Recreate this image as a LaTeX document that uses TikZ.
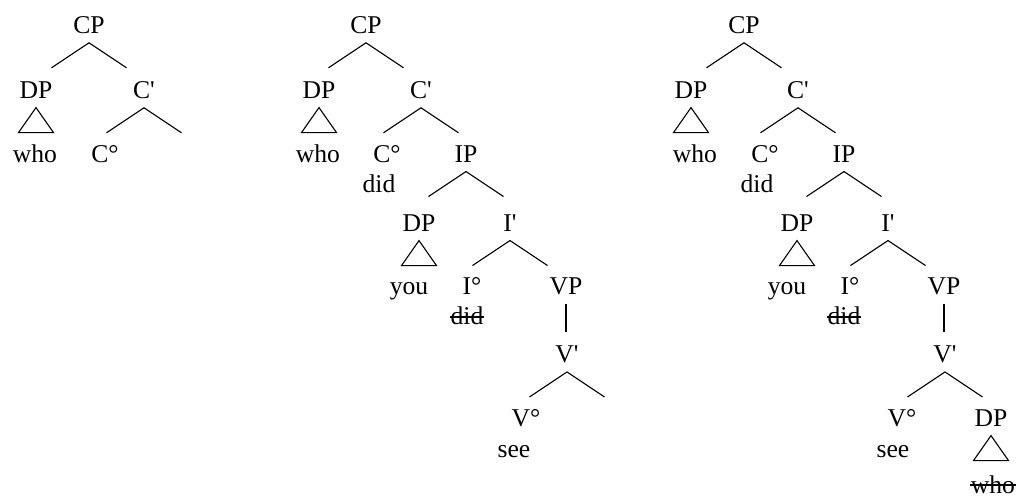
\documentclass[tikz,border=0pt]{standalone}
\usepackage{fontspec}
\setmainfont{Liberation Serif}
\newcommand{\barmark}{\textquotesingle}
\begin{document}
\begin{tikzpicture}[x=0.5pt,y=-0.5pt,font=\fontsize{12.8}{15}\selectfont,
        cat/.style={anchor=base,inner sep=4pt},
        word/.style={anchor=base,inner sep=0pt},
        strike/.style={line width=0.9pt},
        line width=0.55pt]
        \useasboundingbox (0,0) rectangle (1018,497);
        \node[cat] (cpA) at (89,34) {CP};
        \node[cat] (dpA) at (36,99) {DP};
        \node[cat] (cbA) at (144,99) {C\barmark};
        \node[word] (whoA) at (35,163) {who};
        \node[cat] (c0A) at (105,163) {C°};
        \draw (cpA.south) +(-37.5,25) -- (cpA.south) -- +(37.5,25);
        \draw (cbA.south) +(-37.5,25) -- (cbA.south) -- +(37.5,25);
        \draw (dpA.south) -- +(-17.5,25) -- +(17.5,25) -- cycle;

        \node[cat] (cpB) at (366,34) {CP};
        \node[cat] (dpB) at (319,99) {DP};
        \node[cat] (cbB) at (421,99) {C\barmark};
        \node[word] (whoB) at (318,163) {who};
        \node[cat] (c0B) at (387,163) {C°};
        \node[word] (didB) at (379,193) {did};
        \node[cat] (ipB) at (466,163) {IP};
        \node[cat] (dpB2) at (419,232) {DP};
        \node[cat] (ibB) at (510,232) {I\barmark};
        \node[word] (youB) at (409,295) {you};
        \node[cat] (i0B) at (472,295) {I°};
        \node[cat] (vpB) at (566,295) {VP};
        \node[word] (didB2) at (467,325) {did};
        \node[cat] (vbB) at (567,363) {V\barmark};
        \node[cat] (v0B) at (526,427) {V°};
        \node[word] (seeB) at (514,458) {see};
        \draw (cpB.south) +(-37.5,25) -- (cpB.south) -- +(37.5,25);
        \draw (cbB.south) +(-37.5,25) -- (cbB.south) -- +(37.5,25);
        \draw (ipB.south) +(-37.5,25) -- (ipB.south) -- +(37.5,25);
        \draw (ibB.south) +(-37.5,25) -- (ibB.south) -- +(37.5,25);
        \draw (vbB.south) +(-37.5,25) -- (vbB.south) -- +(37.5,25);
        \draw[shorten >=3pt] (vpB.south) -- (vpB.south |- vbB.north);
        \draw (dpB.south) -- +(-17.5,25) -- +(17.5,25) -- cycle;
        \draw (dpB2.south) -- +(-17.5,25) -- +(17.5,25) -- cycle;
        \draw[strike] ([yshift=4pt]didB2.base west) -- ([yshift=4pt]didB2.base east);

        \node[cat] (cpC) at (744,34) {CP};
        \node[cat] (dpC) at (691,99) {DP};
        \node[cat] (cbC) at (798,99) {C\barmark};
        \node[word] (whoC) at (695,163) {who};
        \node[cat] (c0C) at (765,163) {C°};
        \node[word] (didC) at (757,193) {did};
        \node[cat] (ipC) at (844,163) {IP};
        \node[cat] (dpC2) at (797,232) {DP};
        \node[cat] (ibC) at (888,232) {I\barmark};
        \node[word] (youC) at (787,295) {you};
        \node[cat] (i0C) at (850,295) {I°};
        \node[cat] (vpC) at (944,295) {VP};
        \node[word] (didC2) at (844,325) {did};
        \node[cat] (vbC) at (945,363) {V\barmark};
        \node[cat] (v0C) at (902,427) {V°};
        \node[cat] (dpC3) at (991,427) {DP};
        \node[word] (seeC) at (893,458) {see};
        \node[word] (whoC2) at (993,493) {who};
        \draw (cpC.south) +(-37.5,25) -- (cpC.south) -- +(37.5,25);
        \draw (cbC.south) +(-37.5,25) -- (cbC.south) -- +(37.5,25);
        \draw (ipC.south) +(-37.5,25) -- (ipC.south) -- +(37.5,25);
        \draw (ibC.south) +(-37.5,25) -- (ibC.south) -- +(37.5,25);
        \draw (vbC.south) +(-37.5,25) -- (vbC.south) -- +(37.5,25);
        \draw[shorten >=3pt] (vpC.south) -- (vpC.south |- vbC.north);
        \draw (dpC.south) -- +(-17.5,25) -- +(17.5,25) -- cycle;
        \draw (dpC2.south) -- +(-17.5,25) -- +(17.5,25) -- cycle;
        \draw (dpC3.south) -- +(-17.5,25) -- +(17.5,25) -- cycle;
        \draw[strike] ([yshift=4pt]didC2.base west) -- ([yshift=4pt]didC2.base east);
        \draw[strike] ([yshift=4pt]whoC2.base west) -- ([yshift=4pt]whoC2.base east);
      \end{tikzpicture}
\end{document}
